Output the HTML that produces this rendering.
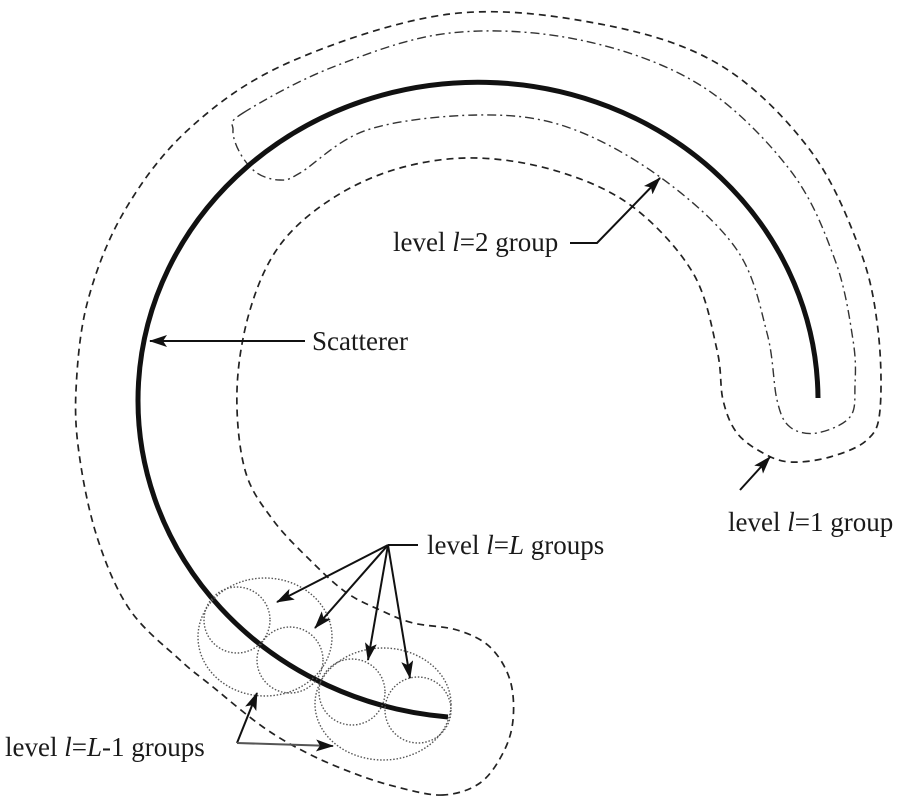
<!DOCTYPE html>
<html><head><meta charset="utf-8"><style>
html,body{margin:0;padding:0;background:#fff;}
svg{display:block}
text{font-family:"Liberation Serif",serif;font-size:27px;fill:#1a1a1a}
</style></head><body>
<svg id="s" width="900" height="800" viewBox="0 0 900 800" xmlns="http://www.w3.org/2000/svg">
<defs>
<marker id="ah" viewBox="0 0 18 12" refX="17" refY="6" markerWidth="18" markerHeight="12" markerUnits="userSpaceOnUse" orient="auto">
<path d="M0,0 L18,6 L0,12 L4,6 Z" fill="#111"/></marker>
</defs>
<path id="l1" fill="none" stroke="#222" stroke-width="1.7" stroke-dasharray="7,5"/>
<path id="l2" fill="none" stroke="#333" stroke-width="1.4" stroke-dasharray="9,4,2,4"/>
<path d="M448,717 A340,318 0 1 1 818,398" fill="none" stroke="#111" stroke-width="5"/>
<g fill="none" stroke="#555" stroke-width="1.4" stroke-dasharray="1.5,1.8">
<ellipse cx="265" cy="637" rx="67" ry="59"/>
<ellipse cx="383" cy="704" rx="68" ry="56"/>
<circle cx="237" cy="620" r="33"/>
<circle cx="290" cy="660" r="33"/>
<circle cx="352" cy="692" r="33"/>
<circle cx="418" cy="710" r="33"/>
</g>
<g fill="none" stroke="#111" stroke-width="2">
<path d="M305,341 L150,341" marker-end="url(#ah)"/>
<path d="M570,243 L597,243 L660,178" marker-end="url(#ah)"/>
<path d="M740,490 L770,457" marker-end="url(#ah)"/>
<path d="M418,545 L388,545"/>
<path d="M388,545 L277,602" marker-end="url(#ah)"/>
<path d="M388,545 L315,628" marker-end="url(#ah)"/>
<path d="M388,545 L368,660" marker-end="url(#ah)"/>
<path d="M388,545 L410,678" marker-end="url(#ah)"/>
<path d="M237,743 L257,693" marker-end="url(#ah)"/>
<path d="M237,743 L333,746" marker-end="url(#ah)" stroke="#555"/>
</g>
<text x="312" y="350">Scatterer</text>
<text x="393" y="251">level <tspan font-style="italic">l</tspan>=2 group</text>
<text x="728" y="531">level <tspan font-style="italic">l</tspan>=1 group</text>
<text x="427" y="554">level <tspan font-style="italic">l</tspan>=<tspan font-style="italic">L</tspan> groups</text>
<text x="5" y="756">level <tspan font-style="italic">l</tspan>=<tspan font-style="italic">L</tspan>-1 groups</text>
</svg>
<script>
function cr(p){var n=p.length,d="M"+p[0][0]+","+p[0][1];
for(var i=0;i<n;i++){var p0=p[(i-1+n)%n],p1=p[i],p2=p[(i+1)%n],p3=p[(i+2)%n];
var c1=[p1[0]+(p2[0]-p0[0])/6,p1[1]+(p2[1]-p0[1])/6],c2=[p2[0]-(p3[0]-p1[0])/6,p2[1]-(p3[1]-p1[1])/6];
d+=" C"+c1[0].toFixed(1)+","+c1[1].toFixed(1)+" "+c2[0].toFixed(1)+","+c2[1].toFixed(1)+" "+p2[0]+","+p2[1];}
return d+"Z";}
var L1=[[443,795],[397,787],[353,773],[307,753],[263,727],[213,687],[180,660],[130,610],[98,540],[80,460],[76,390],[88,300],[125,210],[190,128],[290,62],[450,14],[600,24],[720,65],[810,150],[860,250],[878,330],[880,410],[867,440],[830,457],[790,462],[763,453],[737,433],[723,400],[717,350],[693,273],[633,207],[560,172],[477,158],[400,168],[333,198],[280,245],[250,310],[237,390],[245,470],[273,520],[313,563],[347,593],[380,610],[413,623],[457,630],[490,647],[510,680],[513,720],[503,753],[480,783]];
var L2=[[243,113],[333,67],[450,33],[580,40],[700,85],[790,170],[835,260],[853,340],[855,385],[850,417],[817,433],[790,427],[777,400],[767,333],[737,250],[660,177],[567,127],[477,115],[367,130],[300,173],[280,180],[257,173],[240,153],[233,130]];
document.getElementById("l1").setAttribute("d",cr(L1));
document.getElementById("l2").setAttribute("d",cr(L2));
</script>
</body></html>
